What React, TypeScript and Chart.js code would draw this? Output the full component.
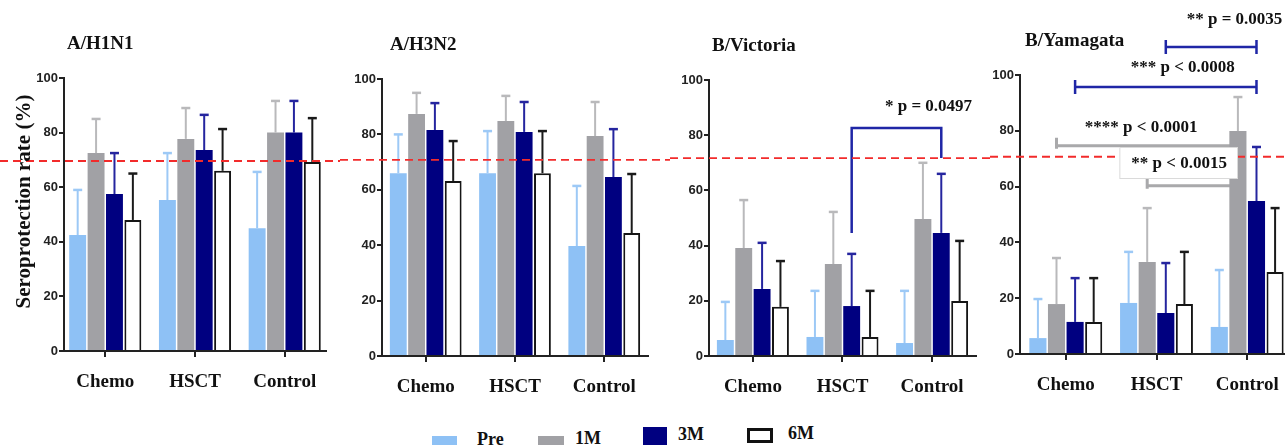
import React, { useEffect, useRef } from "react";
import { Chart, registerables } from "chart.js";

Chart.register(...registerables);

// ---------------- data ----------------
const categories = ["Chemo", "HSCT", "Control"];
const seriesNames = ["Pre", "1M", "3M", "6M"];
const panelTitles = ["A/H1N1", "A/H3N2", "B/Victoria", "B/Yamagata"];
const yTickValues = [0, 20, 40, 60, 80, 100];
const yAxisTitle = "Seroprotection rate (%)";

// values[series][category]  (Pre, 1M, 3M, 6M) x (Chemo, HSCT, Control)
const h1n1Values = [[42.5, 55.3, 45], [72.5, 77.7, 80], [57.5, 73.6, 80], [48, 66, 69.2]];
const h1n1Upper = [[59, 72.5, 65.6], [85, 89, 91.6], [72.5, 86.5, 91.6], [65, 81.3, 85.3]];
const h3n2Values = [[66, 66, 39.7], [87.4, 84.8, 79.4], [81.6, 80.9, 64.6], [63.2, 66, 44.4]];
const h3n2Upper = [[80, 81.2, 61.4], [95, 93.9, 91.7], [91.3, 91.7, 81.9], [77.6, 81.2, 65.7]];
const victoriaValues = [[5.8, 6.9, 4.7], [39.1, 33.3, 49.6], [24.3, 18.1, 44.6], [17.8, 6.9, 19.9]];
const victoriaUpper = [[19.6, 23.6, 23.6], [56.5, 52.2, 70], [41, 37, 66], [34.4, 23.6, 41.7]];
const yamagataValues = [[5.7, 18.3, 9.7], [17.9, 33, 79.9], [11.5, 14.7, 54.8], [11.5, 17.9, 29.4]];
const yamagataUpper = [[19.7, 36.6, 30.1], [34.4, 52.3, 92.1], [27.2, 32.6, 74.2], [27.2, 36.6, 52.3]];

// protective threshold line (~70 %), as read in each panel
const thresholdLevels = [69.6, 70.8, 71.7, 70.7];

// significance marks: from/to = [categoryIndex, seriesIndex]
const victoriaSigs = [
  { label: "* p = 0.0497", from: [1, 2], to: [2, 2], level: 82.6, fromEnd: 44.6, toEnd: 71.7, labelX: 1.96, labelY: 90.5, kind: "bracket", tone: "blue" },
];
const yamagataSigs = [
  { label: "** p = 0.0035", from: [1, 2], to: [2, 2], level: 110, labelX: 1.86, labelY: 119.7, kind: "bar", tone: "blue", rightCap: true },
  { label: "*** p < 0.0008", from: [0, 2], to: [2, 2], level: 95.7, labelX: 1.29, labelY: 102.5, kind: "bar", tone: "blue", rightCap: true },
  { label: "**** p < 0.0001", from: [0, 1], to: [2, 1], level: 74.6, labelX: 0.83, labelY: 81, kind: "bar", tone: "gray", rightCap: false },
  { label: "** p < 0.0015", from: [1, 1], to: [2, 1], level: 60.3, labelX: 1.25, labelY: 68.1, kind: "bar", tone: "gray", rightCap: false, box: true },
];

const panelValues = [h1n1Values, h3n2Values, victoriaValues, yamagataValues];
const panelUpper = [h1n1Upper, h3n2Upper, victoriaUpper, yamagataUpper];
const panelSigs: any[][] = [[], [], victoriaSigs, yamagataSigs];

// ---------------- styles / layout ----------------
const seriesFill = ["#8EC1F5", "#A1A1A5", "#000080", "#FFFFFF"];
const seriesBorder = ["#8EC1F5", "#A1A1A5", "#000080", "#151515"];
const seriesBorderWidth = [0, 0, 0, 2];
const errorColors = ["#9DC9F6", "#B9B9BB", "#25259F", "#1A1A1A"];
const toneStyle: any = {
  blue: { color: "#1F26A6", width: 2.5, capUp: 7, capDown: 7 },
  gray: { color: "#A9A9AB", width: 3, capUp: 8, capDown: 3 },
};

const CANVAS_H = 400;
const panelLayout = [
  { left: 0, width: 340, axisX: 64, chartRight: 326, top100: 78, zero: 351, xPad: 0.46, titleDx: 3, padLeft: 8 },
  { left: 340, width: 330, axisX: 382, chartRight: 648, top100: 79, zero: 356, xPad: 0.49, titleDx: 8, padLeft: 0 },
  { left: 670, width: 320, axisX: 709, chartRight: 976, top100: 80, zero: 356, xPad: 0.49, titleDx: 3, padLeft: 0 },
  { left: 990, width: 310, axisX: 1020, chartRight: 1293, top100: 75, zero: 354, xPad: 0.505, titleDx: 5, padLeft: 0 },
];

const SERIF = '"Liberation Serif", "Times New Roman", serif';
const NARROW = '"Liberation Sans Narrow", "Liberation Sans", Arial, sans-serif';

function makeDecor(p: number) {
  const L = panelLayout[p];
  return {
    id: "panelDecor" + p,
    beforeDatasetsDraw(chart: any) {
      const ctx = chart.ctx;
      const ys = chart.scales.y;
      for (const sig of panelSigs[p]) {
        const st = toneStyle[sig.tone];
        const a = chart.getDatasetMeta(sig.from[1]).data[sig.from[0]];
        const b = chart.getDatasetMeta(sig.to[1]).data[sig.to[0]];
        const yl = ys.getPixelForValue(sig.level);
        ctx.save();
        ctx.strokeStyle = st.color;
        ctx.lineWidth = st.width;
        ctx.lineJoin = "miter";
        ctx.beginPath();
        if (sig.kind === "bracket") {
          ctx.moveTo(a.x, ys.getPixelForValue(sig.fromEnd));
          ctx.lineTo(a.x, yl);
          ctx.lineTo(b.x, yl);
          ctx.lineTo(b.x, ys.getPixelForValue(sig.toEnd));
        } else {
          ctx.moveTo(a.x, yl);
          ctx.lineTo(b.x, yl);
          ctx.moveTo(a.x, yl - st.capUp);
          ctx.lineTo(a.x, yl + st.capDown);
          if (sig.rightCap) {
            ctx.moveTo(b.x, yl - st.capUp);
            ctx.lineTo(b.x, yl + st.capDown);
          }
        }
        ctx.stroke();
        ctx.restore();
      }
    },
    afterDatasetsDraw(chart: any) {
      const ctx = chart.ctx;
      const ys = chart.scales.y;
      const xs = chart.scales.x;
      const area = chart.chartArea;
      // error bars (upper only)
      chart.data.datasets.forEach((ds: any, s: number) => {
        const meta = chart.getDatasetMeta(s);
        meta.data.forEach((el: any, i: number) => {
          const yTop = ys.getPixelForValue(ds.upper[i]);
          ctx.save();
          ctx.strokeStyle = errorColors[s];
          ctx.lineWidth = 2;
          ctx.beginPath();
          ctx.moveTo(el.x, el.y);
          ctx.lineTo(el.x, yTop);
          ctx.stroke();
          ctx.lineWidth = 2.5;
          ctx.beginPath();
          ctx.moveTo(el.x - 4.5, yTop);
          ctx.lineTo(el.x + 4.5, yTop);
          ctx.stroke();
          ctx.restore();
        });
      });
      // threshold dashed line
      const yT = ys.getPixelForValue(thresholdLevels[p]);
      ctx.save();
      ctx.strokeStyle = "#F22B2B";
      ctx.lineWidth = 1.8;
      ctx.setLineDash([8, 5]);
      ctx.beginPath();
      ctx.moveTo(0, yT);
      ctx.lineTo(chart.width, yT);
      ctx.stroke();
      ctx.restore();
      // significance labels
      for (const sig of panelSigs[p]) {
        const x = xs.getPixelForValue(sig.labelX);
        const y = ys.getPixelForValue(sig.labelY);
        ctx.save();
        ctx.font = "bold 17px " + SERIF;
        ctx.textAlign = "center";
        ctx.textBaseline = "middle";
        if (sig.box) {
          const w = ctx.measureText(sig.label).width;
          ctx.fillStyle = "#FFFFFF";
          ctx.fillRect(x - w / 2 - 12, y - 17, w + 22, 31);
          ctx.strokeStyle = "#DADADA";
          ctx.lineWidth = 1;
          ctx.strokeRect(x - w / 2 - 12 + 0.5, y - 17 + 0.5, w + 22, 31);
        }
        ctx.fillStyle = "#111111";
        ctx.fillText(sig.label, x, y);
        ctx.restore();
      }
      // panel title
      ctx.save();
      ctx.font = "bold 19px " + SERIF;
      ctx.fillStyle = "#111111";
      ctx.textAlign = "left";
      ctx.textBaseline = "middle";
      ctx.fillText(panelTitles[p], area.left + L.titleDx, area.top - 34);
      ctx.restore();
      // y-axis title (first panel only)
      if (p === 0) {
        ctx.save();
        ctx.font = "bold 21px " + SERIF;
        ctx.fillStyle = "#111111";
        ctx.textAlign = "center";
        ctx.textBaseline = "middle";
        ctx.translate(area.left - 39, (area.top + area.bottom) / 2 - 13);
        ctx.rotate(-Math.PI / 2);
        ctx.fillText(yAxisTitle, 0, 0);
        ctx.restore();
      }
    },
  };
}

function buildConfig(p: number): any {
  const L = panelLayout[p];
  const values = panelValues[p];
  const upper = panelUpper[p];
  const axisColor = "#222222";
  return {
    type: "bar",
    data: {
      datasets: seriesNames.map((name, s) => ({
        label: name,
        data: categories.map((_, i) => ({ x: i, y: values[s][i] })),
        upper: upper[s],
        backgroundColor: seriesFill[s],
        borderColor: seriesBorder[s],
        borderWidth: seriesBorderWidth[s],
        borderSkipped: "bottom",
        categoryPercentage: 0.82,
        barPercentage: 0.92,
      })),
    },
    options: {
      animation: false,
      responsive: false,
      maintainAspectRatio: false,
      devicePixelRatio: 1,
      layout: {
        padding: {
          left: L.padLeft,
          right: L.left + L.width - L.chartRight,
          top: L.top100,
          bottom: 0,
        },
      },
      plugins: { legend: { display: false }, tooltip: { enabled: false }, title: { display: false } },
      scales: {
        x: {
          type: "linear",
          offset: false,
          min: -L.xPad,
          max: categories.length - 1 + L.xPad,
          afterBuildTicks: (sc: any) => {
            sc.ticks = categories.map((_, i) => ({ value: i }));
          },
          afterFit: (sc: any) => {
            sc.height = CANVAS_H - L.zero;
            sc.paddingLeft = 0;
            sc.paddingRight = 0;
          },
          ticks: {
            callback: (v: any) => categories[v] ?? "",
            font: { family: SERIF, size: 19, weight: "bold" },
            color: "#111111",
            padding: 14,
            autoSkip: false,
            maxRotation: 0,
          },
          grid: { display: true, offset: false, drawOnChartArea: false, drawTicks: true, tickLength: 6, color: axisColor, lineWidth: 2 },
          border: { display: true, color: axisColor, width: 2 },
        },
        y: {
          min: 0,
          max: 100,
          afterBuildTicks: (sc: any) => {
            sc.ticks = yTickValues.map((v) => ({ value: v }));
          },
          afterFit: (sc: any) => {
            sc.width = L.axisX - L.left - L.padLeft;
          },
          ticks: {
            font: { family: NARROW, size: 13, weight: "bold" },
            color: "#222222",
            padding: 1,
          },
          grid: { display: true, drawOnChartArea: false, drawTicks: true, tickLength: 5, color: axisColor, lineWidth: 2 },
          border: { display: true, color: axisColor, width: 2 },
        },
      },
    },
    plugins: [makeDecor(p)],
  };
}

const legendLayout = [
  { swatchLeft: 432, swatchTop: 436, swatchW: 25, swatchH: 20, textLeft: 477, textTop: 430 },
  { swatchLeft: 538, swatchTop: 436, swatchW: 26, swatchH: 20, textLeft: 575, textTop: 429 },
  { swatchLeft: 643, swatchTop: 427, swatchW: 24, swatchH: 20, textLeft: 678, textTop: 425 },
  { swatchLeft: 747, swatchTop: 428, swatchW: 26, swatchH: 15, textLeft: 788, textTop: 424 },
];

export default function App() {
  const refs = [useRef<HTMLCanvasElement>(null), useRef<HTMLCanvasElement>(null), useRef<HTMLCanvasElement>(null), useRef<HTMLCanvasElement>(null)];

  useEffect(() => {
    const charts: Chart[] = [];
    refs.forEach((r, p) => {
      if (r.current) charts.push(new Chart(r.current, buildConfig(p)));
    });
    return () => charts.forEach((c) => c.destroy());
  }, []);

  return (
    <div style={{ position: "fixed", left: 0, top: 0, width: 1285, height: 445, overflow: "hidden", background: "#FFFFFF" }}>
      {panelLayout.map((L, p) => (
        <canvas
          key={p}
          ref={refs[p]}
          width={L.width}
          height={CANVAS_H}
          style={{ position: "absolute", left: L.left, top: 0, width: L.width, height: CANVAS_H }}
        />
      ))}
      {seriesNames.map((name, s) => {
        const g = legendLayout[s];
        const isOutline = seriesBorderWidth[s] > 0;
        return (
          <React.Fragment key={name}>
            <div
              style={{
                position: "absolute",
                left: g.swatchLeft,
                top: g.swatchTop,
                width: g.swatchW,
                height: g.swatchH,
                boxSizing: "border-box",
                background: seriesFill[s],
                border: isOutline ? "3px solid #111" : "none",
              }}
            />
            <div
              style={{
                position: "absolute",
                left: g.textLeft,
                top: g.textTop,
                font: "bold 18px " + SERIF,
                lineHeight: "18px",
                color: "#111",
                whiteSpace: "nowrap",
              }}
            >
              {name}
            </div>
          </React.Fragment>
        );
      })}
    </div>
  );
}
